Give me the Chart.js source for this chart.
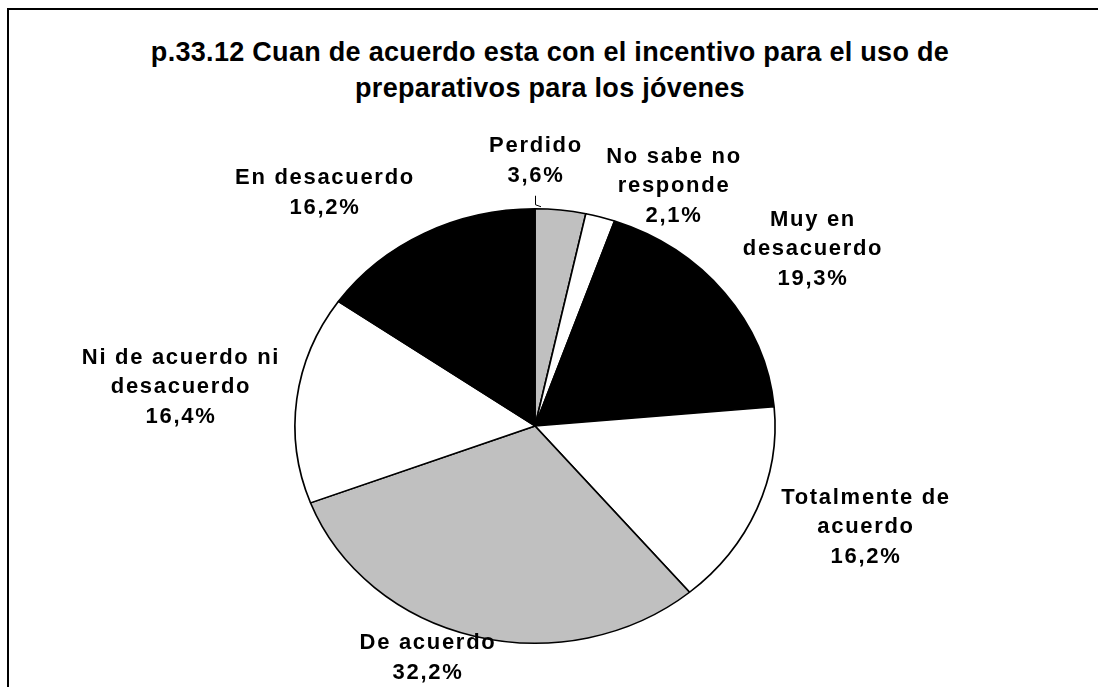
<!DOCTYPE html>
<html>
<head>
<meta charset="utf-8">
<script src="https://cdn.jsdelivr.net/npm/chart.js@4.4.0/dist/chart.umd.min.js"></script>
<style>
  html, body { margin: 0; padding: 0; background: #fff; overflow: hidden; }
  #wrap { position: relative; width: 1098px; height: 687px; }
  #frame { position: absolute; left: 7px; top: 8px; width: 1200px; height: 800px;
           border-top: 2px solid #000; border-left: 2px solid #000; }
  #title { position: absolute; left: 0; top: 34px; width: 1100px; text-align: center;
           font: bold 27px "Liberation Sans", Arial, sans-serif; line-height: 36px;
           letter-spacing: 0.3px; color: #000; }
  canvas { position: absolute; left: 0; top: 0; }
</style>
</head>
<body>
<div id="wrap">
  <div id="frame"></div>
  <div id="title">p.33.12 Cuan de acuerdo esta con el incentivo para el uso de<br>preparativos para los jóvenes</div>
  <canvas id="myChart" width="1098" height="687"></canvas>
</div>
<script>
// data
const categories = [
  ['Perdido'],
  ['No sabe no', 'responde'],
  ['Muy en', 'desacuerdo'],
  ['Totalmente de', 'acuerdo'],
  ['De acuerdo'],
  ['Ni de acuerdo ni', 'desacuerdo'],
  ['En desacuerdo']
];
const percentages = [3.6, 2.1, 19.3, 16.2, 32.2, 16.4, 16.2];
const sliceColors = ['#c0c0c0', '#ffffff', '#000000', '#ffffff', '#c0c0c0', '#ffffff', '#000000'];

// label block centres, relative to pie centre
const labelOffsets = [[0, -265], [138, -240], [277, -177], [330, 101], [-108, 232], [-355, -39], [-211, -233]];
const lineHeight = 29.5;
const stretchX = 1.105; // the original pie is a bit wider than tall

const ellipsePlugin = {
  id: 'ellipse',
  beforeDatasetsDraw(chart) {
    const arc = chart.getDatasetMeta(0).data[0];
    const ctx = chart.ctx;
    ctx.save();
    ctx.translate(arc.x, arc.y);
    ctx.scale(stretchX, 1);
    ctx.translate(-arc.x, -arc.y);
  },
  afterDatasetsDraw(chart) {
    chart.ctx.restore();
  }
};

const labelPlugin = {
  id: 'sliceLabels',
  afterDraw(chart) {
    const ctx = chart.ctx;
    const arcs = chart.getDatasetMeta(0).data;
    const cx = arcs[0].x, cy = arcs[0].y;
    ctx.save();
    ctx.font = 'bold 22px "Liberation Sans", Arial, sans-serif';
    ctx.letterSpacing = '1.7px';
    ctx.fillStyle = '#000';
    ctx.textAlign = 'center';
    ctx.textBaseline = 'middle';
    arcs.forEach((arc, i) => {
      const lines = categories[i].concat([percentages[i].toFixed(1).replace('.', ',') + '%']);
      const x = cx + labelOffsets[i][0];
      const top = cy + labelOffsets[i][1] - (lines.length - 1) * lineHeight / 2;
      lines.forEach((t, j) => ctx.fillText(t, x + 1, top + j * lineHeight));
      if (i === 0) {
        // small leader line to the tiny slice
        const yb = top + (lines.length - 1) * lineHeight + 20;
        ctx.beginPath();
        ctx.strokeStyle = '#000';
        ctx.lineWidth = 1;
        ctx.moveTo(x + 0.5, yb);
        ctx.lineTo(x + 0.5, yb + 9);
        ctx.lineTo(x + 6, yb + 11);
        ctx.stroke();
      }
    });
    ctx.restore();
  }
};

const data = {
  labels: categories,
  datasets: [{
    data: percentages,
    backgroundColor: sliceColors,
    borderColor: '#000000',
    borderWidth: 1.5,
    hoverOffset: 0,
    clip: false
  }]
};

const config = {
  type: 'pie',
  data,
  options: {
    responsive: false,
    animation: false,
    events: [],
    layout: { padding: { top: 208, bottom: 43, left: 200, right: 228 } },
    plugins: {
      legend: { display: false },
      tooltip: { enabled: false },
      title: { display: false }
    }
  },
  plugins: [ellipsePlugin, labelPlugin]
};

const myChart = new Chart(document.getElementById('myChart'), config);
</script>
</body>
</html>
